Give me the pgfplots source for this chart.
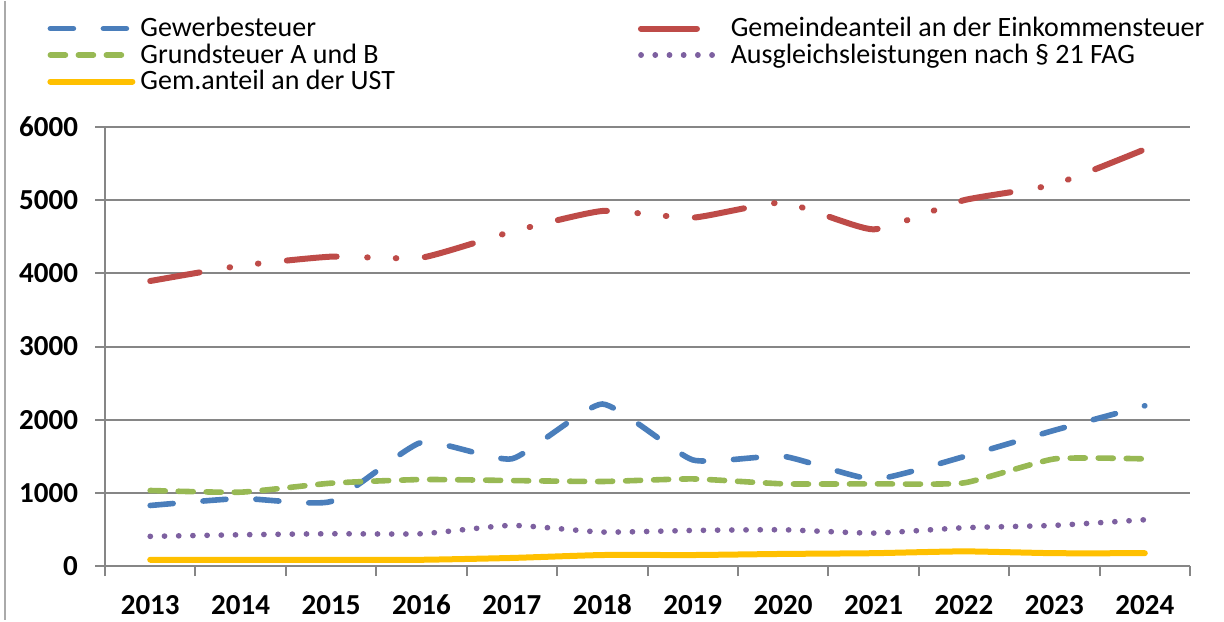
\documentclass[border=0pt]{standalone}
\usepackage{fontspec}
\setmainfont{Carlito}
\usepackage{pgfplots}
\pgfplotsset{compat=1.18}
\definecolor{cblue}{HTML}{4A7EBB}
\definecolor{cred}{HTML}{BE4B48}
\definecolor{cgreen}{HTML}{98B954}
\definecolor{cpurple}{HTML}{7D60A0}
\definecolor{cyellow}{HTML}{FFC000}
\definecolor{cgrid}{HTML}{868686}
\begin{document}
\begin{tikzpicture}
\begin{axis}[
  name=ax,
  scale only axis,
  width=542.5pt, height=219.5pt,
  xmin=-0.5, xmax=11.5,
  ymin=0, ymax=6000,
  axis lines=left,
  axis line style={-, cgrid, line width=1pt},
  xtick={-0.5,0.5,...,11.5},
  xticklabels={2013,2014,2015,2016,2017,2018,2019,2020,2021,2022,2023,2024},
  x tick label as interval,
  ytick={0,1000,...,6000},
  ymajorgrids,
  grid style={cgrid, line width=1pt},
  tick align=outside,
  major tick length=5pt,
  tick style={cgrid, line width=1pt},
  /pgf/number format/assume math mode=true,
  /pgf/number format/1000 sep={},
  ticklabel style={font=\bfseries\fontsize{14.5}{16}\selectfont},
  yticklabel style={xshift=-5pt},
  xticklabel style={yshift=-5pt, text height=10.5pt, text depth=0pt},
  legend columns=2,
  legend cell align=left,
  legend style={at={(axis description cs:0,1)}, anchor=north west,
    xshift=-32pt, yshift=59.5pt, draw=none, fill=none,
    font=\fontsize{14}{15}\selectfont,
    row sep=-3pt,
    nodes={inner sep=2.5pt},
    /tikz/column 2/.style={column sep=119pt}},
  legend image code/.code={\draw[#1] (0pt,0pt) -- (41pt,0pt);},
  every axis plot/.append style={line width=2.8pt, smooth, tension=0.3},
]
\addplot[cblue, line cap=round, dash pattern=on 11.5pt off 15pt] coordinates {
(0,827) (1,923) (2,882) (3,1690) (4,1465) (5,2214) (6,1450) (7,1500) (8,1185) (9,1495) (10,1855) (11,2190)};
\addlegendentry{Gewerbesteuer}
\addplot[cred, line width=3pt, line cap=round, dash pattern=on 25pt off 15.25pt on 0.3pt off 14pt on 0.3pt off 14.25pt,
  legend image code/.code={\draw[cred, line width=3pt, line cap=round, solid] (0pt,0pt) -- (28pt,0pt);}] coordinates {
(0,3895) (1,4105) (2,4228) (3,4214) (4,4570) (5,4852) (6,4761) (7,4966) (8,4601) (9,5000) (10,5216) (11,5695)};
\addlegendentry{Gemeindeanteil an der Einkommensteuer}
\addplot[cgreen, line cap=round, dash pattern=on 7.5pt off 6.5pt] coordinates {
(0,1032) (1,1009) (2,1132) (3,1182) (4,1168) (5,1155) (6,1190) (7,1123) (8,1123) (9,1136) (10,1464) (11,1464)};
\addlegendentry{Grundsteuer A und B}
\addplot[cpurple, line cap=round, dash pattern=on 0.1pt off 7pt] coordinates {
(0,405) (1,427) (2,441) (3,441) (4,555) (5,464) (6,486) (7,495) (8,450) (9,523) (10,555) (11,632)};
\addlegendentry{Ausgleichsleistungen nach § 21 FAG}
\addplot[cyellow, line width=3pt, line cap=round] coordinates {
(0,85) (1,85) (2,85) (3,85) (4,110) (5,150) (6,150) (7,165) (8,175) (9,200) (10,175) (11,175)};
\addlegendentry{Gem.anteil an der UST}
\end{axis}
\draw[cgrid!70, line width=1pt] ([xshift=-50pt,yshift=63pt]ax.north west) -- ([xshift=-50pt,yshift=-27pt]ax.south west);
\path[use as bounding box] ([xshift=-52.5pt,yshift=-27pt]ax.south west) rectangle ([xshift=17pt,yshift=63pt]ax.north east);
\end{tikzpicture}
\end{document}
